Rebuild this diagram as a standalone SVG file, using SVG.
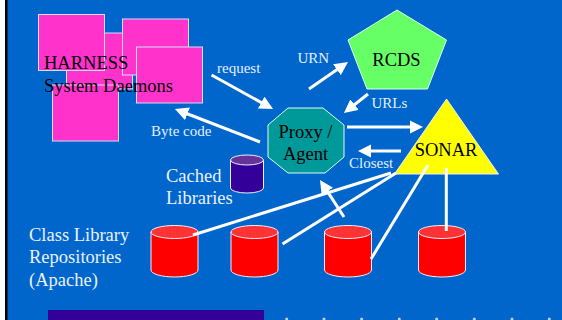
<svg xmlns="http://www.w3.org/2000/svg" width="562" height="320" viewBox="0 0 562 320">
<defs>
<marker id="ah" viewBox="0 0 10 10" refX="7" refY="5" markerWidth="4.500" markerHeight="4.500" markerUnits="strokeWidth" orient="auto"><path d="M0 0L10 5L0 10z" fill="#fff"/></marker>
</defs>
<style>
text{font-family:"Liberation Serif","Times New Roman",serif}
.k{font-size:18.500px;fill:#000}
.w{font-size:18.500px;fill:#eaf2ff}
.s{font-size:15px;fill:#e6efff}
.sq{fill:#ff33cc;stroke:#cfe0f5;stroke-width:1}
.a{stroke:#fff;stroke-width:3;fill:none;marker-end:url(#ah)}
.l{stroke:#fff;stroke-width:3;fill:none}
.red .b{fill:#f00;stroke:#eef;stroke-width:1}
.red .t{fill:#f33;stroke:#eef;stroke-width:1}
</style>
<rect width="562" height="320" fill="#0066cc"/>
<rect x="0" y="0" width="5" height="320" fill="#fff"/>
<rect x="5" y="0" width="2.500" height="320" fill="#000"/>
<rect x="48" y="310" width="216" height="10" fill="#330099"/>
<g id="ticks" fill="#ccc"><circle cx="286.700" cy="319" r="1.500"/><circle cx="324" cy="319" r="1.500"/><circle cx="361.700" cy="319" r="1.500"/><circle cx="399.300" cy="319" r="1.500"/><circle cx="436.700" cy="319" r="1.500"/><circle cx="474.300" cy="319" r="1.500"/><circle cx="512" cy="319" r="1.500"/><circle cx="549.300" cy="319" r="1.500"/></g>
<g id="harness">
<rect class="sq" x="66.500" y="33" width="66" height="56"/>
<rect class="sq" x="52.500" y="85" width="66" height="56"/>
<rect class="sq" x="38.500" y="14.500" width="66" height="56"/>
<rect class="sq" x="122.500" y="19" width="66" height="56"/>
<rect class="sq" x="136.500" y="47" width="66" height="56"/>
<text class="k" x="44" y="69">HARNESS</text>
<text class="k" x="44" y="92">System Daemons</text>
</g>
<g id="rcds"><polygon points="397,10 446.500,40 427.500,89 367,89 348,40" fill="#66ff66" stroke="#dfe" stroke-width="1"/><text class="k" x="396.500" y="66" text-anchor="middle">RCDS</text></g>
<g id="proxy"><polygon points="288,108 323,108 344,125 344,157 325,173 288,173 268,157 268,125" fill="#009999" stroke="#dfe" stroke-width="1"/><text class="k" x="305.500" y="138" text-anchor="middle">Proxy /</text><text class="k" x="305.500" y="159.500" text-anchor="middle">Agent</text></g>
<g id="sonar"><polygon points="446.500,99 498.500,174 394.500,174" fill="#ff0" stroke="#eef" stroke-width="1"/><text class="k" x="446" y="156" text-anchor="middle">SONAR</text></g>
<g id="cache"><path d="M230.500 160V188A16.500 5 0 0 0 263.500 188V160z" fill="#330099" stroke="#eef"/><ellipse cx="247" cy="160" rx="16.500" ry="5" fill="#663399" stroke="#eef"/></g>
<g id="repo1" class="red"><path class="b" d="M151 232V270A23.500 7 0 0 0 198 270V232z"/><ellipse class="t" cx="174.500" cy="232" rx="23.500" ry="6.500"/></g>
<g id="repo2" class="red"><path class="b" d="M231 232V270A23.500 7 0 0 0 278 270V232z"/><ellipse class="t" cx="254.500" cy="232" rx="23.500" ry="6.500"/></g>
<g id="repo3" class="red"><path class="b" d="M324.500 232V270A23.500 7 0 0 0 371.500 270V232z"/><ellipse class="t" cx="348" cy="232" rx="23.500" ry="6.500"/></g>
<g id="repo4" class="red"><path class="b" d="M418.500 232V270A23.500 7 0 0 0 465.500 270V232z"/><ellipse class="t" cx="442" cy="232" rx="23.500" ry="6.500"/></g>
<g id="connectors">
<path class="a" d="M211.500 75L269.500 107.100"/>
<path class="a" d="M260 142L178.700 110.500"/>
<path class="a" d="M309 89L344.700 64.300"/>
<path class="a" d="M368 94L347.100 110.500"/>
<path class="a" d="M347 127H419"/>
<path class="a" d="M401 151H362"/>
<path class="a" d="M344 217L322.200 183.400"/>
<path class="l" d="M193 235L391 173"/>
<path class="l" d="M282.500 244L396 173"/>
<path class="l" d="M371 259L428 165"/>
<path class="l" d="M446.300 168V231"/>
</g>
<g id="labels">
<text class="s" x="217" y="73">request</text>
<text class="s" x="151" y="136">Byte code</text>
<text class="s" x="297.500" y="62.500">URN</text>
<text class="s" x="371.500" y="108">URLs</text>
<text class="s" x="349" y="167.500">Closest</text>
<text class="w" x="166" y="182">Cached</text>
<text class="w" x="166" y="204">Libraries</text>
<text class="w" x="29" y="241">Class Library</text>
<text class="w" x="29" y="263">Repositories</text>
<text class="w" x="29" y="286">(Apache)</text>
</g>
</svg>
